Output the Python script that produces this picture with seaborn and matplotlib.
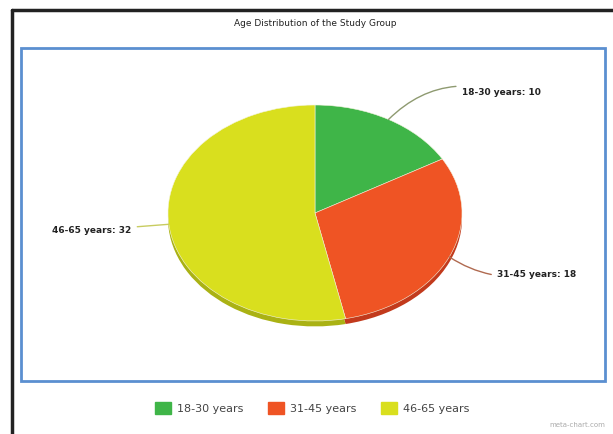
import numpy as np
import matplotlib
matplotlib.use("Agg")
import matplotlib.pyplot as plt
import seaborn as sns
from matplotlib.patches import Rectangle, Patch
from matplotlib.lines import Line2D

# Data
age_groups = ["18-30 years", "31-45 years", "46-65 years"]
counts = [10, 18, 32]
colors = ["#3fb548", "#ef5424", "#d9df1e"]
shade_colors = ["#2e8f37", "#c23a1c", "#aab214"]
line_colors = ["#8e9a70", "#b06a50", "#c8cc60"]

sns.set_theme(style="white")
plt.rcParams['font.family'] = ['DejaVu Sans']

W, H = 613, 434
fig = plt.figure(figsize=(W / 100, H / 100), dpi=100)
fig.patch.set_facecolor("white")

# outer frame (black lines left and top)
fig.add_artist(Line2D([12 / W, 12 / W], [0, 1 - 10 / H], color="#222222", lw=2.5))
fig.add_artist(Line2D([12 / W, 1], [1 - 10 / H, 1 - 10 / H], color="#222222", lw=2.5))

# blue chart box
fig.add_artist(Rectangle((21 / W, 1 - 381 / H), (605 - 21) / W, (381 - 48) / H,
                         fill=False, edgecolor="#5b8fd0", lw=2, transform=fig.transFigure))

fig.text(315 / W, 1 - 23 / H, "Age Distribution of the Study Group", ha="center", va="center",
         fontsize=6.5, color="#222222")

# pie axes (elliptic for tilted look)
cx, cy, rx, ry = 315, 213, 147, 108
ax = fig.add_axes([(cx - rx) / W, 1 - (cy + ry) / H, 2 * rx / W, 2 * ry / H])

# depth layer
ax.pie(counts, colors=shade_colors, startangle=90, counterclock=False, radius=1,
       center=(0, -0.05), wedgeprops=dict(linewidth=0), frame=True)
wedges, _ = ax.pie(counts, colors=colors, startangle=90, counterclock=False, radius=1,
                   wedgeprops=dict(linewidth=0.4, edgecolor="#f4f4e0"), frame=True)
ax.set_xlim(-1, 1)
ax.set_ylim(-1, 1)
ax.set_aspect("auto")
ax.axis("off")

# labels with leader lines
text_pos = [(1.0, 1.12, "left", "arc3,rad=0.3"),
            (1.24, -0.57, "left", "arc3,rad=-0.2"),
            (-1.25, -0.16, "right", "arc3,rad=0.0")]
for w, grp, n, lc, (tx, ty, ha, cs) in zip(wedges, age_groups, counts, line_colors, text_pos):
    ang = np.deg2rad((w.theta1 + w.theta2) / 2)
    ex, ey = np.cos(ang), np.sin(ang)
    ax.annotate(f"{grp}: {n}", xy=(ex, ey), xytext=(tx, ty), ha=ha, va="center",
                fontsize=6.5, fontweight="bold", color="#222222", annotation_clip=False,
                arrowprops=dict(arrowstyle="-", color=lc, lw=1,
                                connectionstyle=cs, shrinkA=2, shrinkB=0))

# legend
handles = [Patch(facecolor=c, edgecolor=c, label=g) for c, g in zip(colors, age_groups)]
fig.legend(handles=handles, loc="center", bbox_to_anchor=(312 / W, 1 - 408 / H), ncol=3,
           frameon=False, fontsize=8, handlelength=1.5, handleheight=1.2,
           columnspacing=2.2, handletextpad=0.5, labelcolor="#444444")

fig.text(605 / W, 1 - 425 / H, "meta-chart.com", ha="right", va="center",
         fontsize=5, color="#aaaaaa")

fig.savefig("out.png", dpi=100, facecolor="white")
